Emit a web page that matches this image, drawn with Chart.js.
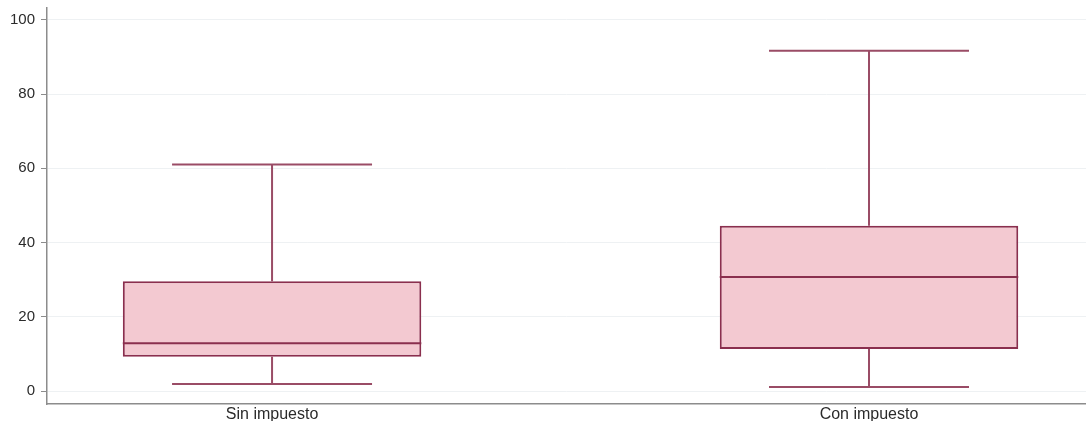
<!DOCTYPE html>
<html>
<head>
<meta charset="utf-8">
<script src="https://cdn.jsdelivr.net/npm/chart.js@4"></script>
<style>
  html, body { margin: 0; padding: 0; background: #fff; }
  #wrap { width: 1086px; height: 421px; }
</style>
</head>
<body>
<div id="wrap"><canvas id="chartContainer1"></canvas></div>
<script>
"use strict";

// 1: data
const categories = ["Sin impuesto", "Con impuesto"];
const positions = [1, 2];
const whiskerLow = [1.9, 1.1];
const q1 = [9.2, 11.3];
const median = [12.9, 30.7];
const q3 = [29.6, 44.5];
const whiskerHigh = [61.0, 91.7];
const yTicks = [0, 20, 40, 60, 80, 100];

const boxLine = "#8a2f4e";
const whiskerLine = "#9a4c66";

// 2: whiskers, caps and median drawn through the scales
const boxExtras = {
	id: "boxExtras",
	beforeDatasetsDraw(chart) {
		const ctx = chart.ctx;
		const xs = chart.scales.x;
		const ys = chart.scales.y;
		ctx.save();
		ctx.strokeStyle = whiskerLine;
		ctx.lineWidth = 2;
		for (let i = 0; i < positions.length; i++) {
			const x = xs.getPixelForValue(positions[i]);
			const capL = xs.getPixelForValue(positions[i] - 0.1675);
			const capR = xs.getPixelForValue(positions[i] + 0.1675);
			const yLo = ys.getPixelForValue(whiskerLow[i]);
			const yHi = ys.getPixelForValue(whiskerHigh[i]);
			ctx.beginPath();
			ctx.moveTo(x, ys.getPixelForValue(q1[i]));
			ctx.lineTo(x, yLo);
			ctx.moveTo(x, ys.getPixelForValue(q3[i]));
			ctx.lineTo(x, yHi);
			ctx.moveTo(capL, yLo);
			ctx.lineTo(capR, yLo);
			ctx.moveTo(capL, yHi);
			ctx.lineTo(capR, yHi);
			ctx.stroke();
		}
		ctx.restore();
	},
	afterDatasetsDraw(chart) {
		const ctx = chart.ctx;
		const xs = chart.scales.x;
		const ys = chart.scales.y;
		ctx.save();
		ctx.strokeStyle = boxLine;
		ctx.lineWidth = 2;
		for (let i = 0; i < positions.length; i++) {
			const l = xs.getPixelForValue(positions[i] - 0.25);
			const r = xs.getPixelForValue(positions[i] + 0.25);
			const y = ys.getPixelForValue(median[i]);
			ctx.beginPath();
			ctx.moveTo(l, y);
			ctx.lineTo(r, y);
			ctx.stroke();
		}
		ctx.restore();
	}
};

// 3: create the chart
let chart = new Chart(document.querySelector("#chartContainer1"), {
	type: "bar",
	data: {
		datasets: [{
			data: positions.map((p, i) => ({ x: p, y: [q1[i], q3[i]] })),
			backgroundColor: "#f3c9d1",
			borderColor: boxLine,
			borderWidth: 2,
			borderSkipped: false,
			barPercentage: 0.5,
			categoryPercentage: 1
		}]
	},
	options: {
		responsive: true,
		maintainAspectRatio: false,
		animation: false,
		layout: { padding: { top: 8, right: 0, left: 0, bottom: 0 } },
		plugins: {
			legend: { display: false },
			tooltip: { enabled: false }
		},
		scales: {
			x: {
				type: "linear",
				offset: false,
				min: 0.623,
				max: 2.3635,
				afterBuildTicks: (s) => { s.ticks = positions.map(v => ({ value: v })); },
				afterFit: (s) => { s.height = 17; s.paddingLeft = 0; s.paddingRight = 0; },
				grid: { display: false, drawTicks: false },
				border: { color: "#8c8c8c", width: 1.5 },
				ticks: {
					padding: 1,
					maxRotation: 0,
					autoSkip: false,
					color: "#2b2b2b",
					font: { family: "Liberation Sans, Arial, sans-serif", size: 16 },
					callback: (v) => categories[positions.indexOf(v)]
				}
			},
			y: {
				min: -3.5,
				max: 103.2,
				afterBuildTicks: (s) => { s.ticks = yTicks.map(v => ({ value: v })); },
				afterFit: (s) => { s.width = 47; s.paddingTop = 0; s.paddingBottom = 0; },
				grid: { color: "#eef1f3", tickColor: "#8c8c8c", tickLength: 6, lineWidth: 1 },
				border: { color: "#8c8c8c", width: 1.5 },
				ticks: {
					padding: 6,
					color: "#2b2b2b",
					font: { family: "Liberation Sans, Arial, sans-serif", size: 15 }
				}
			}
		}
	},
	plugins: [boxExtras]
});
</script>
</body>
</html>
